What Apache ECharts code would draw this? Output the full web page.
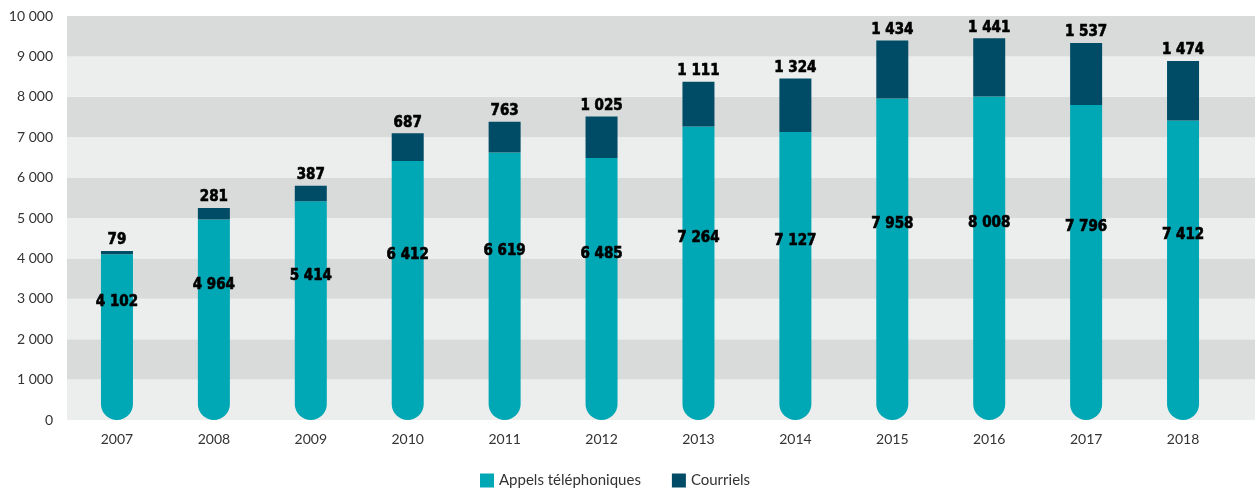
<!DOCTYPE html>
<html><head><meta charset="utf-8">
<script src="https://cdn.jsdelivr.net/npm/echarts@6/dist/echarts.min.js"></script>
<style>html,body{margin:0;padding:0;background:#fff}#c{width:1255px;height:491px}</style>
</head><body><div id="c"></div>
<script>
const years = ['2007','2008','2009','2010','2011','2012','2013','2014','2015','2016','2017','2018'];
const appels = [4102,4964,5414,6412,6619,6485,7264,7127,7958,8008,7796,7412];
const courriels = [79,281,387,687,763,1025,1111,1324,1434,1441,1537,1474];
const seriesNames = ['Appels téléphoniques','Courriels'];

const fmt = v => String(v).replace(/\B(?=(\d{3})+(?!\d))/g, ' ');
const chart = echarts.init(document.getElementById('c'));
const labelFont = {fontFamily:'DejaVu Sans Condensed', fontWeight:'bold', fontSize:15, color:'#000',
  textBorderColor:'#000', textBorderWidth:0.6};
chart.setOption({
  animation:false,
  textStyle:{fontFamily:'Lato'},
  grid:[
    {left:67, right:0, top:16, bottom:71},
    {left:68.5, right:23.5, top:16, bottom:71}
  ],
  legend:{
    top:468, left:475, itemWidth:14, itemHeight:14, itemGap:31, icon:'rect',
    textStyle:{fontFamily:'Lato', fontSize:15, color:'#333'},
    data:seriesNames
  },
  xAxis:[
    {gridIndex:0, type:'category', data:years, show:false},
    {gridIndex:1, type:'category', data:years,
     axisLine:{show:false}, axisTick:{show:false},
     axisLabel:{fontFamily:'Lato', fontSize:14, color:'#333', margin:12}}
  ],
  yAxis:[
    {gridIndex:0, type:'value', min:0, max:10000, interval:1000,
     axisLine:{show:false}, axisTick:{show:false}, splitLine:{show:false},
     splitArea:{show:true, areaStyle:{color:['#eceeee','#d9dbdb']}},
     axisLabel:{fontFamily:'Lato', fontSize:14, color:'#333', margin:14, formatter:fmt}},
    {gridIndex:1, type:'value', min:0, max:10000, interval:1000, show:false}
  ],
  series:[
    {name:seriesNames[0], type:'bar', stack:'t', xAxisIndex:1, yAxisIndex:1,
     data:appels, barWidth:32, itemStyle:{color:'#00a7b4', borderRadius:[0,0,16,16]},
     label:{show:true, position:'inside', offset:[0,-35], formatter:p=>fmt(p.value), ...labelFont}},
    {name:seriesNames[1], type:'bar', stack:'t', xAxisIndex:1, yAxisIndex:1,
     data:courriels, barWidth:32, itemStyle:{color:'#004c66'},
     label:{show:true, position:'top', distance:3, formatter:p=>fmt(p.value), ...labelFont}}
  ]
});
</script></body></html>
